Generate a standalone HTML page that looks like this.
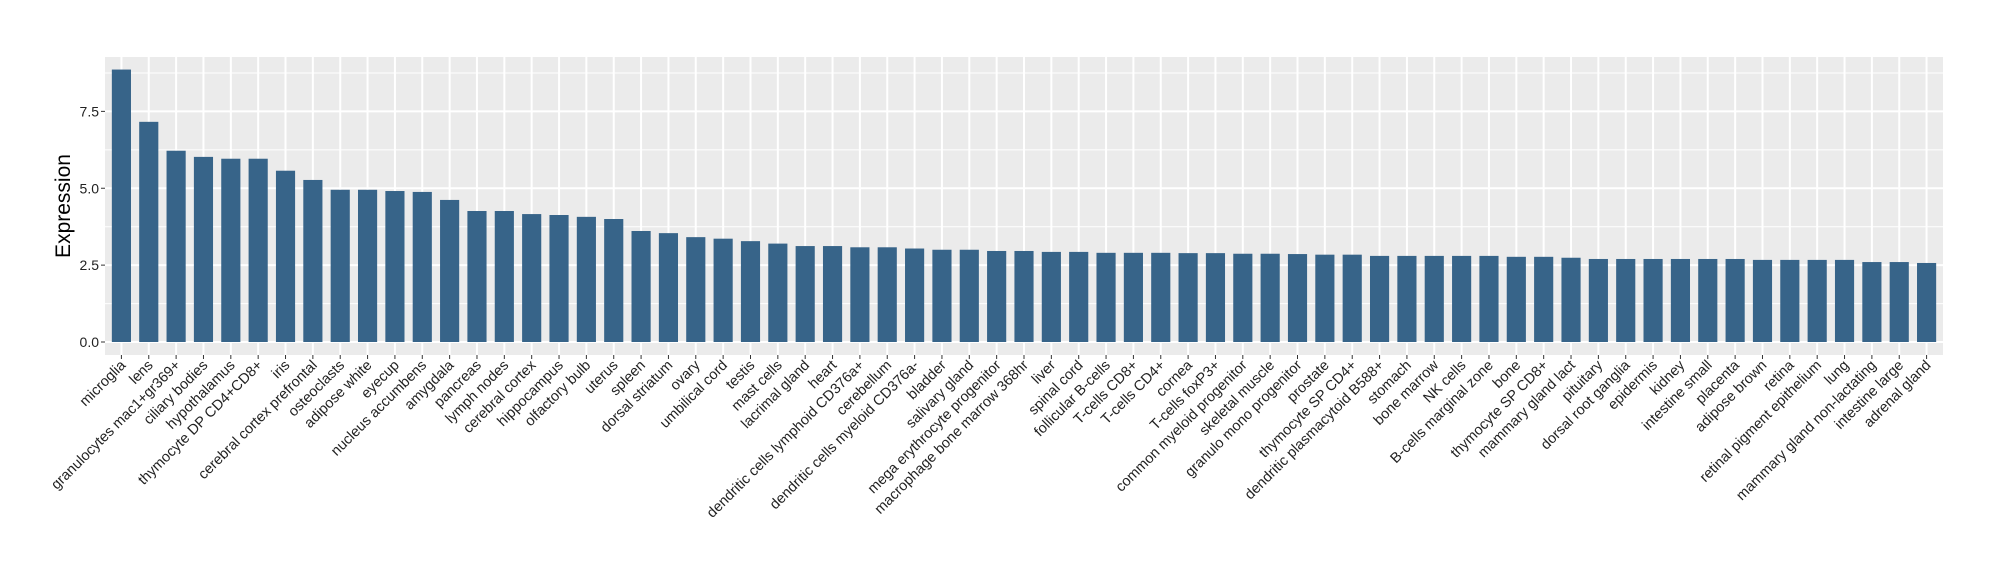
<!DOCTYPE html>
<html><head><meta charset="utf-8">
<style>
html,body{margin:0;padding:0;background:#fff;overflow:hidden;}
svg{display:block;font-family:"Liberation Sans",Arial,sans-serif;}
</style></head>
<body>
<svg id="chart" width="2000" height="580" viewBox="0 0 2000 580" xmlns="http://www.w3.org/2000/svg">
  <rect x="105" y="57" width="1838" height="298" fill="#ebebeb"/>
  <g id="grid"></g>
  <g id="bars"></g>
  <g id="yaxis"></g>
  <g id="xaxis"></g>
  <text transform="translate(70,206) rotate(-90)" text-anchor="middle" font-size="21" fill="#000">Expression</text>
</svg>
<script>
const categories = ["microglia","lens","granulocytes mac1+gr369+","ciliary bodies","hypothalamus","thymocyte DP CD4+CD8+","iris","cerebral cortex prefrontal","osteoclasts","adipose white","eyecup","nucleus accumbens","amygdala","pancreas","lymph nodes","cerebral cortex","hippocampus","olfactory bulb","uterus","spleen","dorsal striatum","ovary","umbilical cord","testis","mast cells","lacrimal gland","heart","dendritic cells lymphoid CD376a+","cerebellum","dendritic cells myeloid CD376a-","bladder","salivary gland","mega erythrocyte progenitor","macrophage bone marrow 368hr","liver","spinal cord","follicular B-cells","T-cells CD8+","T-cells CD4+","cornea","T-cells foxP3+","common myeloid progenitor","skeletal muscle","granulo mono progenitor","prostate","thymocyte SP CD4+","dendritic plasmacytoid B588+","stomach","bone marrow","NK cells","B-cells marginal zone","bone","thymocyte SP CD8+","mammary gland  lact","pituitary","dorsal root ganglia","epidermis","kidney","intestine small","placenta","adipose brown","retina","retinal pigment epithelium","lung","mammary gland non-lactating","intestine large","adrenal gland"];
const values = [8.86,7.16,6.22,6.02,5.96,5.96,5.57,5.27,4.95,4.95,4.91,4.88,4.62,4.26,4.26,4.16,4.13,4.07,4.0,3.61,3.54,3.41,3.36,3.28,3.2,3.12,3.12,3.08,3.08,3.04,3.0,3.0,2.96,2.96,2.93,2.93,2.9,2.9,2.9,2.89,2.89,2.87,2.87,2.86,2.84,2.84,2.8,2.8,2.8,2.8,2.8,2.77,2.77,2.74,2.7,2.7,2.7,2.7,2.7,2.7,2.67,2.67,2.67,2.67,2.6,2.6,2.57];
const yTicks = [0,2.5,5,7.5];
const yTickLabels = ["0.0","2.5","5.0","7.5"];
const yMinor = [1.25,3.75,6.25,8.75];

const NS="http://www.w3.org/2000/svg";
const PL=105, PR=1943, PT=57, PB=355;
const Y0=342, PXU=30.75;
function y(v){return Y0 - v*PXU;}
const band=(PR-PL)/(categories.length-1+1.2);
function x(i){return PL + (0.6+i)*band;}
function mk(tag,attrs,parent){const e=document.createElementNS(NS,tag);for(const k in attrs)e.setAttribute(k,attrs[k]);parent.appendChild(e);return e;}

const grid=document.getElementById('grid');
yMinor.forEach(v=>{const l=mk('line',{x1:PL,x2:PR,y1:y(v),y2:y(v),stroke:'#fff','stroke-width':1},grid);

});
yTicks.forEach(v=>{const l=mk('line',{x1:PL,x2:PR,y1:y(v),y2:y(v),stroke:'#fff','stroke-width':2},grid);

});
categories.forEach((c,i)=>{const l=mk('line',{x1:x(i),x2:x(i),y1:PT,y2:PB,stroke:'#fff','stroke-width':2},grid);

});

const bars=document.getElementById('bars');
const bw=band*0.7;
values.forEach((v,i)=>{const r=mk('rect',{x:x(i)-bw/2,y:y(v),width:bw,height:Y0-y(v),fill:'#376489'},bars);

});

const ya=document.getElementById('yaxis');
yTicks.forEach((v,i)=>{
 const t=mk('line',{x1:PL-4,x2:PL,y1:y(v),y2:y(v),stroke:'#333','stroke-width':1},ya);
 
 
 const tx=mk('text',{x:PL-6,y:y(v)+5,'text-anchor':'end','font-size':14,fill:'#222'},ya);
 tx.textContent=yTickLabels[i];
 
 
});
const xa=document.getElementById('xaxis');
categories.forEach((c,i)=>{
 const t=mk('line',{x1:x(i),x2:x(i),y1:PB,y2:PB+4,stroke:'#333','stroke-width':1},xa);
 
 
 const tx=mk('text',{transform:'translate('+(x(i)+5)+','+(PB+11)+') rotate(-45)','text-anchor':'end','font-size':14.5,fill:'#222'},xa);
 tx.textContent=c;
 
 
});
</script>
</body></html>
